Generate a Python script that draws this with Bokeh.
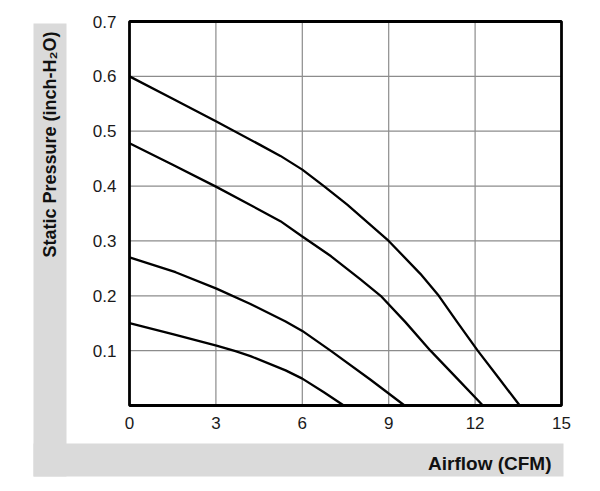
import math
from bokeh.plotting import figure
from bokeh.models import BoxAnnotation, Label, Range1d
from bokeh.core.properties import value
from bokeh.embed import file_html
from bokeh.resources import INLINE

# ---- data: airflow (CFM) vs static pressure (inch-H2O) ----
c1_x = [0, 1.5, 3.0, 4.5, 5.24, 6.0, 6.75, 7.56, 9.0, 10.1, 10.74, 11.38, 12.09, 12.82, 13.55]
c1_y = [0.600, 0.559, 0.518, 0.476, 0.455, 0.430, 0.400, 0.366, 0.300, 0.240, 0.200, 0.152, 0.100, 0.050, 0.0]
c2_x = [0, 1.5, 3.0, 4.5, 5.24, 6.0, 7.0, 8.02, 8.72, 9.58, 10.45, 11.38, 12.27]
c2_y = [0.478, 0.439, 0.399, 0.357, 0.336, 0.308, 0.272, 0.230, 0.200, 0.152, 0.100, 0.049, 0.0]
c3_x = [0, 1.6, 3.02, 4.2, 5.42, 6.0, 6.98, 8.37, 9.55]
c3_y = [0.270, 0.243, 0.213, 0.185, 0.153, 0.136, 0.100, 0.047, 0.0]
c4_x = [0, 1.5, 3.02, 3.68, 4.2, 5.42, 6.0, 6.75, 7.44]
c4_y = [0.150, 0.130, 0.109, 0.099, 0.090, 0.064, 0.049, 0.024, 0.0]

x_ticks = [0, 3, 6, 9, 12, 15]
y_ticks = [0.1, 0.2, 0.3, 0.4, 0.5, 0.6, 0.7]
x_labels = ["0", "3", "6", "9", "12", "15"]
y_labels = ["0.1", "0.2", "0.3", "0.4", "0.5", "0.6", "0.7"]

# ---- layout (pixels) ----
W, H = 600, 491
FL, FR, FT, FB = 129, 561, 21, 405   # plot box edges on the canvas
x0, x1 = x_ticks[0], x_ticks[-1]
y0, y1 = 0.0, y_ticks[-1]
xpp = (x1 - x0) / (FR - FL)
ypp = (y1 - y0) / (FB - FT)

p = figure(width=W, height=H, output_backend="svg", toolbar_location=None,
           x_axis_location=None, y_axis_location=None,
           x_range=Range1d(x0 - FL * xpp, x1 + (W - FR) * xpp),
           y_range=Range1d(y0 - (H - FB) * ypp, y1 + FT * ypp),
           min_border=0, min_border_left=0, min_border_right=0,
           min_border_top=0, min_border_bottom=0)
p.background_fill_color = "white"
p.border_fill_color = "white"
p.outline_line_color = None
p.xgrid.visible = False
p.ygrid.visible = False

GREY = "#dadada"
p.add_layout(BoxAnnotation(left=33, right=66, top=23, bottom=476,
                           left_units="canvas", right_units="canvas",
                           top_units="canvas", bottom_units="canvas",
                           fill_color=GREY, fill_alpha=1, line_color=None, level="underlay"))
p.add_layout(BoxAnnotation(left=33, right=563, top=443, bottom=476,
                           left_units="canvas", right_units="canvas",
                           top_units="canvas", bottom_units="canvas",
                           fill_color=GREY, fill_alpha=1, line_color=None, level="underlay"))

# grid
gx = x_ticks[1:-1]
gy = y_ticks[:-1]
p.segment(x0=gx, y0=[y0] * len(gx), x1=gx, y1=[y1] * len(gx),
          line_color="#8c8c8c", line_width=1.2)
p.segment(x0=[x0] * len(gy), y0=gy, x1=[x1] * len(gy), y1=gy,
          line_color="#8c8c8c", line_width=1.2)

# curves
for xs, ys in [(c1_x, c1_y), (c2_x, c2_y), (c3_x, c3_y), (c4_x, c4_y)]:
    p.line(xs, ys, line_color="black", line_width=2.3, line_join="round")

# plot box
p.quad(left=[x0], right=[x1], bottom=[y0], top=[y1], fill_color=None,
       line_color="black", line_width=2.8)

# tick labels
p.text(x=x_ticks, y=[y0] * len(x_ticks), text=x_labels, text_align="center",
       text_baseline="top", y_offset=11, text_font=value("Liberation Sans"),
       text_font_size="17px", text_color="#1a1a1a")
p.text(x=[x0] * len(y_ticks), y=y_ticks, text=y_labels, text_align="right",
       text_baseline="middle", x_offset=-13, text_font=value("Liberation Sans"),
       text_font_size="17px", text_color="#1a1a1a")

# axis titles
p.add_layout(Label(x=49, y=144, x_units="canvas", y_units="canvas",
                   text="Static Pressure (inch-H\u2082O)", angle=math.pi / 2,
                   text_align="center", text_baseline="middle",
                   text_font="Liberation Sans", text_font_style="bold",
                   text_font_size="18px", text_color="#111111"))
p.add_layout(Label(x=551, y=463, x_units="canvas", y_units="canvas",
                   text="Airflow (CFM)",
                   text_align="right", text_baseline="middle",
                   text_font="Liberation Sans", text_font_style="bold",
                   text_font_size="19px", text_color="#111111"))

open("out.html", "w").write(file_html(p, INLINE))
